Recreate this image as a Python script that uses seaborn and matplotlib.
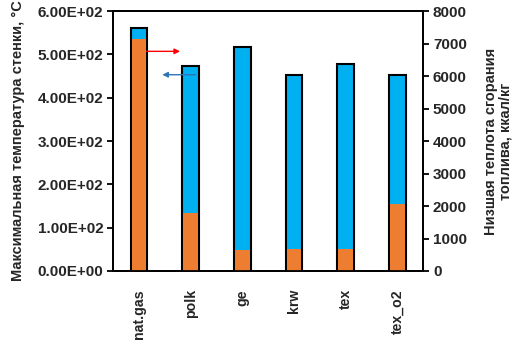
import numpy as np
import pandas as pd
import matplotlib
matplotlib.use('Agg')
import matplotlib.pyplot as plt
import seaborn as sns
from matplotlib.ticker import FormatStrFormatter

# fuels and values
fuels = ['nat.gas', 'polk', 'ge', 'krw', 'tex', 'tex_o2']
wall_temp = [560, 473, 518, 453, 477, 453]        # left axis, °C
heat_value = [7130, 1770, 640, 690, 690, 2070]     # right axis, kcal/kg

df = pd.DataFrame({'fuel': fuels, 'temp': wall_temp, 'heat': heat_value})

sns.set_style('ticks')
plt.rcParams['font.family'] = ['Liberation Sans', 'DejaVu Sans']
plt.rcParams['font.weight'] = 'bold'

fig = plt.figure(figsize=(5.17, 3.45), dpi=100)
ax = fig.add_axes([0.2186, 0.2145, 0.6, 0.7535])

# temperature bars (blue, black edge)
sns.barplot(data=df, x='fuel', y='temp', color='#00B0F0', saturation=1,
            width=0.32, edgecolor='black', linewidth=1.5, ax=ax)

# heat of combustion on the second axis (orange)
ax2 = ax.twinx()
sns.barplot(data=df, x='fuel', y='heat', color='#ED7D31', saturation=1,
            width=0.28, linewidth=0, ax=ax2)

ax.set_ylim(0, 600)
ax.set_yticks(np.arange(0, 601, 100))
ax.yaxis.set_major_formatter(FormatStrFormatter('%.2E'))
ax2.set_ylim(0, 8000)
ax2.set_yticks(np.arange(0, 8001, 1000))
ax.set_xlim(-0.5, 5.5)

ax.set_xlabel('')
ax2.set_xlabel('')
ax.set_ylabel('Максимальная температура стенки, °C', fontsize=10.5, fontweight='bold', labelpad=9)
ax2.set_ylabel('Низшая теплота сгорания\nтоплива, ккал/кг', fontsize=10.5, fontweight='bold',
               labelpad=12, linespacing=1.1)

ax.set_xticks(range(len(fuels)))
ax.set_xticklabels(fuels, rotation=90, fontsize=10.2, fontweight='bold')
ax.tick_params(axis='x', length=0, pad=13)
ax.tick_params(axis='y', direction='out', length=4, width=1.3, labelsize=11, left=True,
               color='black', pad=3)
ax2.tick_params(axis='y', direction='out', length=4, width=1.3, labelsize=11, right=True,
                color='black', pad=3)
for t in ax.get_yticklabels() + ax2.get_yticklabels():
    t.set_fontweight('bold')

for a in (ax, ax2):
    for side in ['left', 'right', 'bottom', 'top']:
        a.spines[side].set_visible(True)
        a.spines[side].set_color('black')
        a.spines[side].set_linewidth(1.3)

# arrows pointing to the axis each series belongs to
ax.annotate('', xy=(0.225, 0.845), xytext=(0.095, 0.845), xycoords='axes fraction',
            arrowprops=dict(arrowstyle='-|>', color='red', lw=1, mutation_scale=8))
ax.annotate('', xy=(0.15, 0.755), xytext=(0.275, 0.755), xycoords='axes fraction',
            arrowprops=dict(arrowstyle='-|>', color='#2E75B6', lw=1, mutation_scale=8))

fig.savefig('out.png', dpi=100)
